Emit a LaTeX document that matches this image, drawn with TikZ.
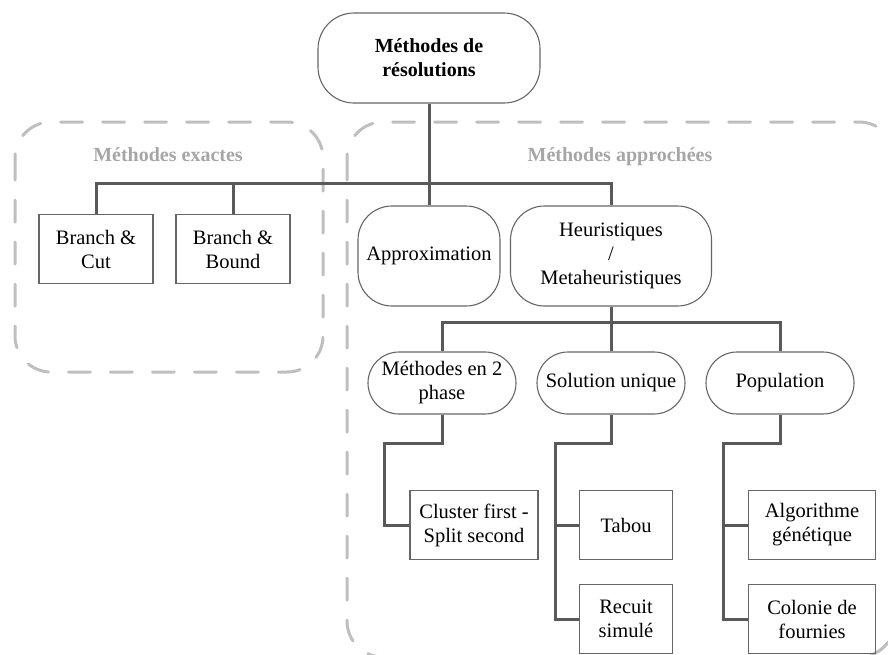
\documentclass[tikz,border=0pt]{standalone}
\usepackage{fontspec}
\setmainfont{Liberation Serif}
\usepackage{tikz}
\usepackage{xcolor}
\tikzset{
  basenode/.style = {align=center, inner sep=2pt, text centered, font=\fontsize{20.5}{24}\selectfont},
  root_node/.style = {basenode, rectangle, rounded corners=36pt, draw=black!60, line width=1.1pt, minimum width=222pt, minimum height=90pt, font=\fontsize{20}{24}\selectfont\bfseries},
  round_node/.style = {basenode, rectangle, rounded corners=34pt, draw=black!60, line width=1.1pt, minimum height=100pt},
  pill_node/.style = {basenode, rectangle, rounded corners=31pt, draw=black!60, line width=1.1pt, minimum width=148pt, minimum height=62pt},
  leaf_node/.style = {basenode, rectangle, draw=black!60, line width=1.1pt, minimum height=69pt},
  group_box/.style = {draw=black!25, line width=3pt, dash pattern=on 22pt off 20pt, line cap=round, rounded corners=36pt},
  group_title/.style = {basenode, text=black!35, font=\fontsize{20}{24}\selectfont\bfseries},
  link/.style = {draw=black!65, line width=3pt},
}

\begin{document}
\begin{tikzpicture}[x=1pt, y=-1pt]
    \useasboundingbox (0,0) rectangle (888,654);
    % groupes
    \draw [group_box] (15,122) rectangle (323,372);
    \draw [group_box] (347,122) rectangle (895,657);
    \node [group_title] (t_exact) at (168,155) {Méthodes exactes};
    \node [group_title] (t_appr) at (620,157) {Méthodes approchées};

    \node [root_node] (root) at (429,58) {Méthodes de\\résolutions};

    \node [leaf_node, minimum width=114pt] (cut) at (96,249) {Branch \&\\Cut};
    \node [leaf_node, minimum width=114pt] (bound) at (233,249) {Branch \&\\Bound};
    \node [round_node, minimum width=142pt] (appr) at (429,256) {Approximation};
    \node [round_node, minimum width=201pt] (heur) at (611,256) {Heuristiques\\/\\Metaheuristiques};

    \node [pill_node] (deux) at (442,383) {Méthodes en 2\\phase};
    \node [pill_node] (sol) at (611,383) {Solution unique};
    \node [pill_node] (pop) at (780,383) {Population};

    \node [leaf_node, minimum width=128pt] (clus) at (474,525) {Cluster first -\\Split second};
    \node [leaf_node, minimum width=93pt] (tabou) at (626,525) {Tabou};
    \node [leaf_node, minimum width=93pt] (recuit) at (626,619) {Recuit\\simulé};
    \node [leaf_node, minimum width=127pt] (algo) at (812,525) {Algorithme\\génétique};
    \node [leaf_node, minimum width=127pt] (colonie) at (812,619) {Colonie de\\fournies};

    % connecteurs
    \coordinate (bus1) at (429,183);
    \coordinate (bus2) at (611,322);
    \coordinate (k1) at (384,443);
    \coordinate (k2) at (555,443);
    \coordinate (k3) at (723,443);

    \draw [link] (root) -- (appr);
    \draw [link] (cut.north) |- (bus1) -| (heur.north);
    \draw [link] (bound.north) -- (bound.north |- bus1);

    \draw [link] (heur) -- (sol);
    \draw [link] (deux.north) |- (bus2) -| (pop.north);

    \draw [link] (deux.south) |- (k1) |- (clus.west);
    \draw [link] (sol.south) |- (k2) |- (recuit.west);
    \draw [link] (k2 |- tabou.west) -- (tabou.west);
    \draw [link] (pop.south) |- (k3) |- (colonie.west);
    \draw [link] (k3 |- algo.west) -- (algo.west);
\end{tikzpicture}
\end{document}
